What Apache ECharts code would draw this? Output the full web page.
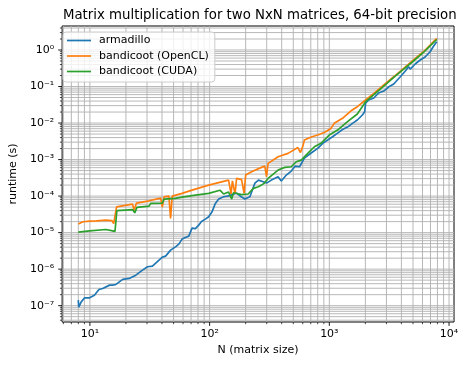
<!DOCTYPE html>
<html>
<head>
<meta charset="utf-8">
<script src="https://cdn.jsdelivr.net/npm/echarts@6/dist/echarts.min.js"></script>
<style>
  html, body { margin: 0; padding: 0; background: #fff; }
  #chart { width: 466px; height: 365px; }
</style>
</head>
<body>
<div id="chart"></div>
<script>
// data (N = matrix size, t = runtime in seconds)
const armadilloN = [8.0, 8.07, 8.47, 9.04, 9.95, 10.9, 11.9, 12.8, 14.6, 15.5, 16.5, 18.8, 21.3, 24.2, 27.5, 30.3, 33.3, 37.8, 40.3, 42.9, 47.2, 51.9, 55.3, 58.9, 62.8, 67.0, 71.3, 76.0, 81.1, 85.1, 92.0, 98.2, 104.5, 111, 119, 131, 148, 168, 185, 197, 217, 239, 256, 280, 299, 328, 373, 397, 437, 481, 519, 564, 619, 705, 800, 881, 968, 1064, 1172, 1288, 1419, 1560, 1714, 1888, 1972, 2009, 2128, 2355, 2576, 2851, 3119, 3451, 3917, 4315, 4592, 4742, 5212, 5741, 6310, 6950, 7345, 7889];
const armadilloT = [1.42e-7, 9.1e-8, 1.27e-7, 1.64e-7, 1.64e-7, 1.94e-7, 2.78e-7, 2.96e-7, 3.65e-7, 3.65e-7, 3.81e-7, 5.22e-7, 5.56e-7, 6.85e-7, 9.4e-7, 1.16e-6, 1.21e-6, 1.77e-6, 2.13e-6, 2.27e-6, 3.32e-6, 4.08e-6, 4.84e-6, 6.64e-6, 7.38e-6, 8.02e-6, 1.33e-5, 1.29e-5, 1.60e-5, 1.98e-5, 2.34e-5, 2.71e-5, 3.65e-5, 6.04e-5, 8.28e-5, 9.57e-5, 1.03e-4, 1.21e-4, 9.4e-5, 8.28e-5, 9.57e-5, 2.27e-4, 2.74e-4, 2.47e-4, 2.27e-4, 2.74e-4, 3.38e-4, 2.58e-4, 3.76e-4, 4.84e-4, 6.64e-4, 6.35e-4, 1.10e-3, 1.51e-3, 2.03e-3, 2.78e-3, 3.42e-3, 4.22e-3, 5.32e-3, 6.64e-3, 7.76e-3, 9.82e-3, 1.21e-2, 1.66e-2, 2.04e-2, 3.47e-2, 4.27e-2, 4.84e-2, 6.64e-2, 7.53e-2, 9.68e-2, 0.117, 0.185, 0.266, 0.348, 0.301, 0.413, 0.532, 0.643, 0.897, 1.21, 1.69];

const openclN = [8.0, 8.75, 9.95, 11.3, 13.6, 15.3, 15.8, 16.7, 22.7, 23.4, 24.5, 31.2, 39.0, 40.3, 41.6, 45.7, 47.2, 48.7, 58.9, 71.3, 98.2, 144, 151, 155, 163, 168, 185, 194, 200, 224, 271, 289, 299, 308, 373, 452, 546, 574, 601, 619, 705, 800, 907, 1030, 1099, 1288, 1510, 1714, 2009, 2355, 2851, 3451, 4178, 5047, 6109, 6950, 7889];
const openclT = [1.71e-5, 1.98e-5, 2.07e-5, 2.10e-5, 2.20e-5, 2.13e-5, 1.77e-5, 5.09e-5, 6.04e-5, 4.13e-5, 6.43e-5, 7.43e-5, 8.81e-5, 5.00e-5, 9.57e-5, 1.0e-4, 2.45e-5, 1.0e-4, 1.19e-4, 1.46e-4, 2.00e-4, 2.74e-4, 1.15e-4, 2.62e-4, 1.15e-4, 3.05e-4, 2.83e-4, 1.19e-4, 3.76e-4, 4.63e-4, 6.11e-4, 6.64e-4, 3.38e-4, 7.87e-4, 1.19e-3, 1.48e-3, 2.13e-3, 1.56e-3, 2.34e-3, 3.42e-3, 4.13e-3, 4.69e-3, 5.50e-3, 7.06e-3, 9.82e-3, 1.35e-2, 2.13e-2, 2.80e-2, 4.27e-2, 6.52e-2, 0.110, 0.185, 0.316, 0.532, 0.897, 1.37, 2.09];

const cudaN = [8.0, 9.95, 13.6, 15.5, 16.2, 16.8, 22.7, 23.7, 24.7, 31.2, 32.2, 40.3, 41.6, 51.9, 58.9, 71.3, 98.2, 122, 131, 144, 153, 158, 185, 210, 232, 255, 271, 287, 308, 373, 424, 481, 529, 582, 661, 750, 851, 998, 1172, 1419, 1714, 2009, 2355, 2851, 3451, 4178, 5047, 6109, 6950, 7889];
const cudaT = [1.03e-5, 1.12e-5, 1.22e-5, 1.12e-5, 1.08e-5, 4.01e-5, 4.27e-5, 3.48e-5, 4.90e-5, 5.32e-5, 6.31e-5, 6.43e-5, 8.28e-5, 8.65e-5, 9.4e-5, 1.03e-4, 1.19e-4, 1.45e-4, 1.14e-4, 1.29e-4, 8.28e-5, 1.23e-4, 1.10e-4, 1.14e-4, 1.63e-4, 1.80e-4, 2.00e-4, 2.27e-4, 3.05e-4, 5.15e-4, 6.11e-4, 6.35e-4, 8.71e-4, 9.68e-4, 1.48e-3, 2.24e-3, 2.78e-3, 4.69e-3, 6.43e-3, 1.09e-2, 1.77e-2, 3.84e-2, 6.04e-2, 0.103, 0.177, 0.301, 0.500, 0.855, 1.29, 1.94];

// axis structure
const xDecades = [1, 10, 100, 1000, 10000];
const yDecades = [1e-8, 1e-7, 1e-6, 1e-5, 1e-4, 1e-3, 1e-2, 1e-1, 1e0];
const minorMults = [2, 3, 4, 5, 6, 7, 8, 9];
const xLabels = { 1: "10¹", 2: "10²", 3: "10³", 4: "10⁴" };
const yLabels = { "-7": "10⁻⁷", "-6": "10⁻⁶", "-5": "10⁻⁵", "-4": "10⁻⁴", "-3": "10⁻³", "-2": "10⁻²", "-1": "10⁻¹", "0": "10⁰" };

const xMin = 5.86, xMax = 11000;
const yMin = 3.57e-8, yMax = 4.54;

const FONT = "DejaVu Sans";
const zip = (a, b) => a.map((v, i) => [v, b[i]]);

function gridValues(decades, lo, hi) {
  const out = [];
  decades.forEach((d) => {
    if (d >= lo && d <= hi) out.push([d, 1]);
    minorMults.forEach((m) => {
      const v = d * m;
      if (v >= lo && v <= hi) out.push([v, 0]);
    });
  });
  return out;
}

const xGrid = gridValues(xDecades, xMin, xMax).map((g) => [g[0], 1, g[1]]);
const yGrid = gridValues(yDecades, yMin, yMax).map((g) => [10, g[0], g[1]]);

function fmt(map) {
  return (value) => {
    const e = Math.log10(value);
    const r = Math.round(e);
    if (Math.abs(e - r) > 1e-6) return "";
    return map[String(r)] || "";
  };
}

const chart = echarts.init(document.getElementById("chart"));

chart.setOption({
  animation: false,
  backgroundColor: "#fff",
  textStyle: { fontFamily: FONT },
  title: {
    text: "Matrix multiplication for two NxN matrices, 64-bit precision",
    left: 58,
    top: 4,
    textStyle: { fontFamily: FONT, fontSize: 13.3, fontWeight: "normal", color: "#000" },
  },
  legend: {
    data: ["armadillo", "bandicoot (OpenCL)", "bandicoot (CUDA)"],
    orient: "vertical",
    left: 63,
    top: 32,
    icon: "rect",
    itemWidth: 24,
    itemHeight: 1.7,
    itemGap: 4.5,
    padding: [3, 6, 5, 4],
    backgroundColor: "rgba(255,255,255,0.8)",
    borderColor: "#cccccc",
    borderWidth: 1,
    borderRadius: 3,
    textStyle: { fontFamily: FONT, fontSize: 11, color: "#000", padding: [0, 0, 0, 3] },
  },
  grid: { left: 59, right: 12, top: 26, bottom: 43, show: true, borderColor: "#000", borderWidth: 1, backgroundColor: "#fff" },
  xAxis: {
    type: "log",
    min: xMin,
    max: xMax,
    name: "N (matrix size)",
    nameLocation: "middle",
    nameGap: 23,
    nameTextStyle: { fontFamily: FONT, fontSize: 11, color: "#000" },
    axisLine: { show: false },
    axisTick: { show: false },
    splitLine: { show: false },
    minorSplitLine: { show: false },
    axisLabel: { formatter: fmt(xLabels), margin: 7, fontFamily: FONT, fontSize: 11, color: "#000" },
  },
  yAxis: {
    type: "log",
    min: yMin,
    max: yMax,
    name: "runtime (s)",
    nameLocation: "middle",
    nameGap: 40,
    nameTextStyle: { fontFamily: FONT, fontSize: 11, color: "#000" },
    axisLine: { show: false },
    axisTick: { show: false },
    splitLine: { show: false },
    minorSplitLine: { show: false },
    axisLabel: { formatter: fmt(yLabels), margin: 8, fontFamily: FONT, fontSize: 11, color: "#000" },
  },
  series: [
    {
      type: "custom",
      name: "xgrid",
      silent: true,
      clip: false,
      z: 1,
      data: xGrid,
      renderItem(params, api) {
        const cs = params.coordSys;
        const x = api.coord([api.value(0), api.value(1)])[0];
        const major = api.value(2) === 1;
        const bottom = cs.y + cs.height;
        return {
          type: "group",
          children: [
            { type: "line", shape: { x1: x, y1: cs.y, x2: x, y2: bottom }, style: { stroke: "#b0b0b0", lineWidth: 0.9 } },
            { type: "line", shape: { x1: x, y1: bottom, x2: x, y2: bottom + (major ? 3.9 : 2.2) }, style: { stroke: "#000", lineWidth: major ? 0.9 : 0.7 } },
          ],
        };
      },
    },
    {
      type: "custom",
      name: "ygrid",
      silent: true,
      clip: false,
      z: 1,
      data: yGrid,
      renderItem(params, api) {
        const cs = params.coordSys;
        const y = api.coord([api.value(0), api.value(1)])[1];
        const major = api.value(2) === 1;
        return {
          type: "group",
          children: [
            { type: "line", shape: { x1: cs.x, y1: y, x2: cs.x + cs.width, y2: y }, style: { stroke: "#b0b0b0", lineWidth: 0.9 } },
            { type: "line", shape: { x1: cs.x - (major ? 3.9 : 2.2), y1: y, x2: cs.x, y2: y }, style: { stroke: "#000", lineWidth: major ? 0.9 : 0.7 } },
          ],
        };
      },
    },
    {
      name: "armadillo",
      type: "line",
      data: zip(armadilloN, armadilloT),
      symbol: "none",
      z: 3,
      lineStyle: { color: "#1f77b4", width: 1.67 },
      itemStyle: { color: "#1f77b4" },
    },
    {
      name: "bandicoot (OpenCL)",
      type: "line",
      data: zip(openclN, openclT),
      symbol: "none",
      z: 4,
      lineStyle: { color: "#ff7f0e", width: 1.67 },
      itemStyle: { color: "#ff7f0e" },
    },
    {
      name: "bandicoot (CUDA)",
      type: "line",
      data: zip(cudaN, cudaT),
      symbol: "none",
      z: 5,
      lineStyle: { color: "#2ca02c", width: 1.67 },
      itemStyle: { color: "#2ca02c" },
    },
  ],
});
</script>
</body>
</html>
